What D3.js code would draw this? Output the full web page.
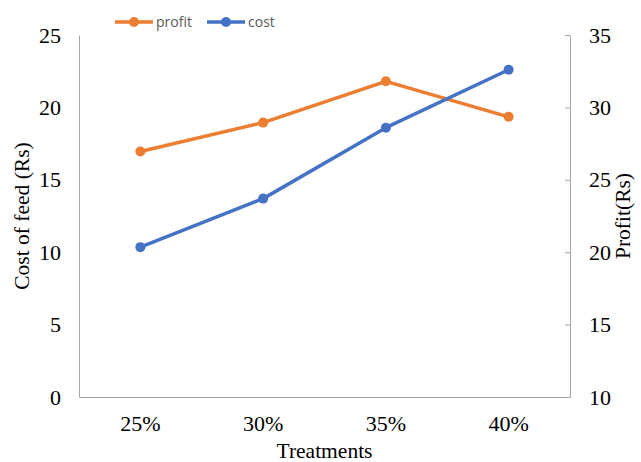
<!DOCTYPE html>
<html>
<head>
<meta charset="utf-8">
<script src="https://cdn.jsdelivr.net/npm/d3@7"></script>
<style>
  body { margin: 0; background: #fff; }
  .tick text { font-family: "Liberation Serif", "Times New Roman", serif; font-size: 22px; fill: #000; }
</style>
</head>
<body>
<script>
// data
var treatments = ["25%", "30%", "35%", "40%"];
var cost = [10.35, 13.7, 18.6, 22.6];
var profit = [26.95, 28.95, 31.8, 29.35];
var costTicks = [0, 5, 10, 15, 20, 25];
var profitTicks = [10, 15, 20, 25, 30, 35];

var W = 641, H = 462;
var margin = {left: 79, right: 71, top: 35, bottom: 65};
var width = W - margin.left - margin.right;
var height = H - margin.top - margin.bottom;

var svg = d3.select("body").append("svg").attr("width", W).attr("height", H);
var g = svg.append("g").attr("transform", "translate(" + margin.left + "," + margin.top + ")");

var x = d3.scaleBand().domain(treatments).range([0, width]);
var yL = d3.scaleLinear().domain([0, 25]).range([height, 0]);
var yR = d3.scaleLinear().domain([10, 35]).range([height, 0]);

var axisColor = "#a6a6a6";

// left axis (no tick marks)
var la = g.append("g").call(d3.axisLeft(yL).tickValues(costTicks).tickSize(0).tickPadding(18));
la.select(".domain").attr("stroke", axisColor);

// right axis, ticks pointing inward
var ra = g.append("g").attr("transform", "translate(" + width + ",0)")
  .call(d3.axisRight(yR).tickValues(profitTicks).tickSizeInner(-5).tickSizeOuter(0).tickPadding(19));
ra.select(".domain").attr("stroke", axisColor);
ra.selectAll(".tick line").attr("stroke", axisColor);

// bottom axis
var ba = g.append("g").attr("transform", "translate(0," + height + ")")
  .call(d3.axisBottom(x).tickSize(0).tickPadding(18));
ba.select(".domain").attr("stroke", axisColor);

var cx = function(i){ return x(treatments[i]) + x.bandwidth() / 2; };

function drawSeries(vals, yScale, color) {
  var line = d3.line().x(function(d, i){ return cx(i); }).y(function(d){ return yScale(d); });
  g.append("path").datum(vals).attr("d", line)
    .attr("fill", "none").attr("stroke", color).attr("stroke-width", 3.5).attr("stroke-linejoin", "round");
  g.selectAll(null).data(vals).enter().append("circle")
    .attr("cx", function(d, i){ return cx(i); })
    .attr("cy", function(d){ return yScale(d); })
    .attr("r", 5).attr("fill", color);
}
drawSeries(profit, yR, "#ED7D31");
drawSeries(cost, yL, "#4472C4");

// axis titles
var serif = "'Liberation Serif', 'Times New Roman', serif";
svg.append("text").attr("transform", "translate(29," + (margin.top + height / 2) + ") rotate(-90)")
  .attr("text-anchor", "middle").style("font-family", serif).style("font-size", "21.5px").text("Cost of feed (Rs)");
svg.append("text").attr("transform", "translate(630," + (margin.top + height / 2) + ") rotate(-90)")
  .attr("text-anchor", "middle").style("font-family", serif).style("font-size", "21.5px").text("Profit(Rs)");
svg.append("text").attr("x", margin.left + width / 2).attr("y", 458)
  .attr("text-anchor", "middle").style("font-family", serif).style("font-size", "21.5px").text("Treatments");

// legend
var legendItems = [{name: "profit", color: "#ED7D31", x: 115}, {name: "cost", color: "#4472C4", x: 207}];
var lg = svg.selectAll(".leg").data(legendItems).enter().append("g").attr("class", "leg")
  .attr("transform", function(d){ return "translate(" + d.x + ",22)"; });
lg.append("line").attr("x1", 0).attr("x2", 38).attr("stroke", function(d){ return d.color; }).attr("stroke-width", 3.5);
lg.append("circle").attr("cx", 19).attr("r", 5).attr("fill", function(d){ return d.color; });
lg.append("text").attr("x", 41).attr("dy", "0.35em")
  .style("font-family", "'Open Sans', 'Liberation Sans', sans-serif").style("font-size", "14px").attr("fill", "#595959")
  .text(function(d){ return d.name; });
</script>
</body>
</html>
